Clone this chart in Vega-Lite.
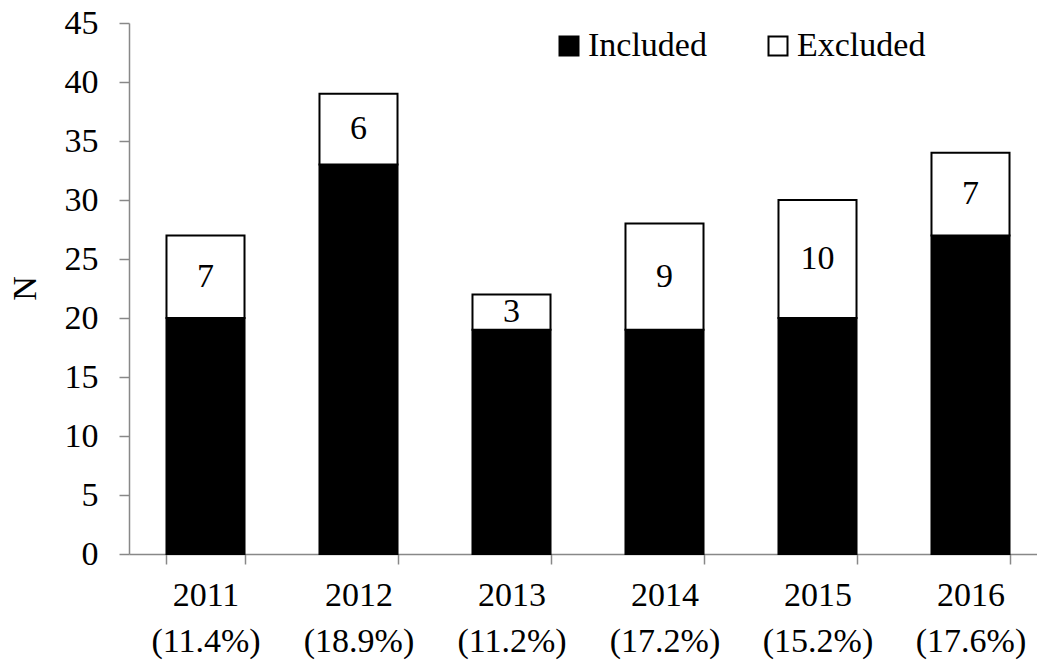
{
  "$schema": "https://vega.github.io/schema/vega-lite/v6.json",
  "width": 918,
  "height": 531,
  "padding": {"left": 129, "top": 23, "right": 0, "bottom": 106},
  "autosize": "none",
  "background": "white",
  "config": {
    "font": "Liberation Serif",
    "view": {"stroke": null}
  },
  "data": {
    "values": [
      {"year": "2011|(11.4%)", "status": "Included", "n": 20},
      {"year": "2011|(11.4%)", "status": "Excluded", "n": 7},
      {"year": "2012|(18.9%)", "status": "Included", "n": 33},
      {"year": "2012|(18.9%)", "status": "Excluded", "n": 6},
      {"year": "2013|(11.2%)", "status": "Included", "n": 19},
      {"year": "2013|(11.2%)", "status": "Excluded", "n": 3},
      {"year": "2014|(17.2%)", "status": "Included", "n": 19},
      {"year": "2014|(17.2%)", "status": "Excluded", "n": 9},
      {"year": "2015|(15.2%)", "status": "Included", "n": 20},
      {"year": "2015|(15.2%)", "status": "Excluded", "n": 10},
      {"year": "2016|(17.6%)", "status": "Included", "n": 27},
      {"year": "2016|(17.6%)", "status": "Excluded", "n": 7}
    ]
  },
  "transform": [
    {"calculate": "datum.status === 'Included' ? 0 : 1", "as": "ord"},
    {"stack": "n", "groupby": ["year"], "sort": [{"field": "ord", "order": "ascending"}], "as": ["n0", "n1"]},
    {"calculate": "(datum.n0 + datum.n1) / 2", "as": "mid"}
  ],
  "encoding": {
    "x": {
      "field": "year",
      "type": "nominal",
      "sort": null,
      "scale": {"paddingInner": 0.49, "paddingOuter": 0.245},
      "axis": {
        "title": null,
        "labelAngle": 0,
        "labelExpr": "split(datum.label, '|')",
        "labelFont": "Liberation Serif",
        "labelFontSize": 34,
        "labelColor": "black",
        "labelLineHeight": 46,
        "labelPadding": 14,
        "labelBaseline": "top",
        "domainColor": "#888888",
        "domainWidth": 1.5,
        "tickColor": "#888888",
        "tickWidth": 1.5,
        "tickSize": 10,
        "tickBand": "extent",
        "grid": false
      }
    }
  },
  "layer": [
    {
      "mark": {"type": "bar", "stroke": "black", "strokeWidth": 2},
      "encoding": {
        "y": {
          "field": "n0",
          "type": "quantitative",
          "scale": {"domain": [0, 45], "nice": false},
          "axis": {
            "values": [0, 5, 10, 15, 20, 25, 30, 35, 40, 45],
            "title": "N",
            "titleFont": "Liberation Serif",
            "titleFontSize": 34,
            "titleFontWeight": "normal",
            "titleColor": "black",
            "titleX": -104,
            "titleY": 265,
            "titleAngle": 270,
            "titleBaseline": "middle",
            "labelFont": "Liberation Serif",
            "labelFontSize": 34,
            "labelColor": "black",
            "labelPadding": 21,
            "domainColor": "#888888",
            "domainWidth": 1.5,
            "tickColor": "#888888",
            "tickWidth": 1.5,
            "tickSize": 10,
            "grid": false
          }
        },
        "y2": {"field": "n1"},
        "fill": {
          "field": "status",
          "type": "nominal",
          "scale": {"domain": ["Included", "Excluded"], "range": ["black", "white"]},
          "legend": {
            "title": null,
            "orient": "none",
            "direction": "horizontal",
            "legendX": 423,
            "legendY": 6,
            "padding": 0,
            "symbolType": "square",
            "symbolSize": 361,
            "symbolStrokeColor": "black",
            "symbolStrokeWidth": 2,
            "labelFont": "Liberation Serif",
            "labelFontSize": 34,
            "labelColor": "black",
            "labelOffset": 2,
            "columnPadding": 54,
            "labelLimit": 300
          }
        }
      }
    },
    {
      "transform": [{"filter": "datum.status === 'Excluded'"}],
      "mark": {"type": "text", "font": "Liberation Serif", "fontSize": 34, "color": "black", "baseline": "middle", "align": "center"},
      "encoding": {
        "y": {"field": "mid", "type": "quantitative"},
        "text": {"field": "n", "type": "quantitative"}
      }
    }
  ]
}
